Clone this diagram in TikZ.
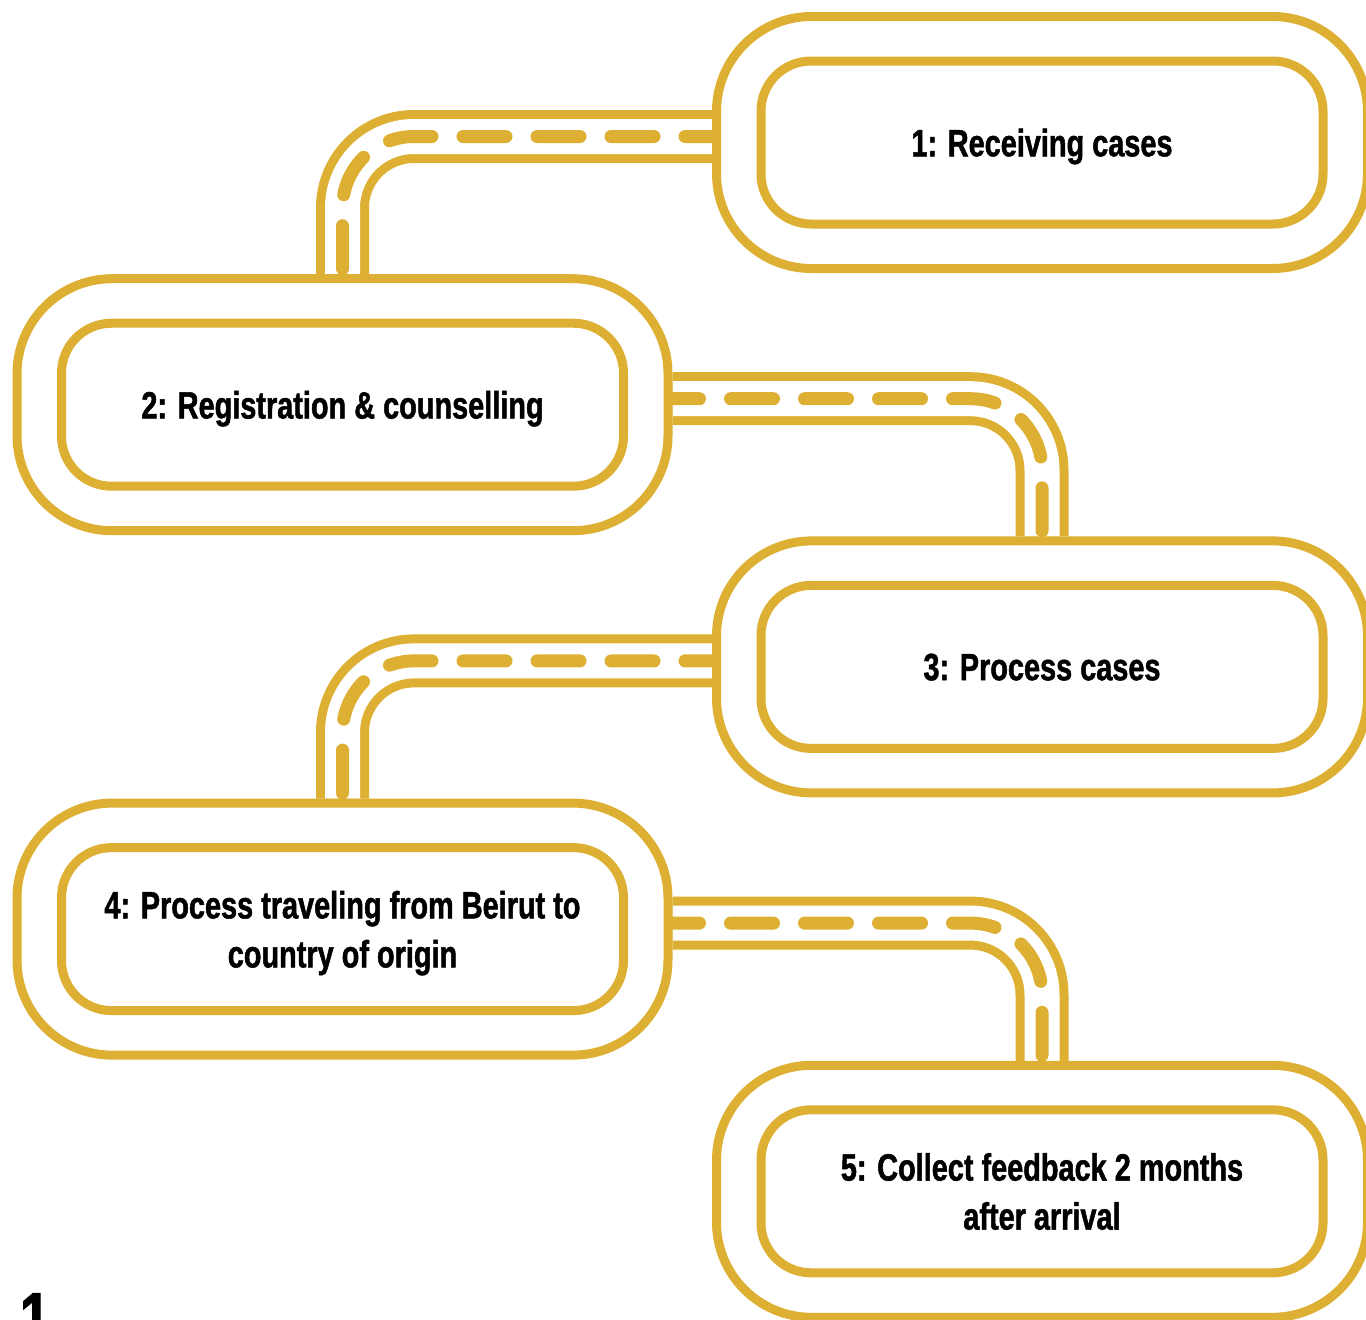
\documentclass[tikz,border=0pt]{standalone}
\usepackage{fontspec}
\newfontfamily\stepfont[FakeStretch=0.76, BoldFeatures={FakeBold=1.3}]{Liberation Sans}
\usetikzlibrary{backgrounds}
\definecolor{roadgold}{HTML}{DDB033}

\begin{document}
\begin{tikzpicture}[
  x=0.5pt, y=-0.5pt,
  font=\stepfont\bfseries\fontsize{19}{24.5}\selectfont,
  outerbox/.style={draw=roadgold, fill=white, line width=4.5pt,
    rounded corners=47.5pt, minimum width=325.5pt, minimum height=126pt},
  innerbox/.style={draw=roadgold, line width=4.5pt, rounded corners=25pt,
    minimum width=281pt, minimum height=81.5pt, align=center,
    inner sep=0pt, text depth=0pt},
  road/.style={rounded corners=35.75pt,
    preaction={draw=roadgold, line width=26.5pt},
    draw=white, line width=17.5pt,
    postaction={draw=roadgold, line width=6.5pt, line cap=round,
      dash pattern=on 21.5pt off 15.5pt, dash phase=8pt}},
  pagenum/.style={anchor=north, inner sep=0pt,
    font=\stepfont\bfseries\fontsize{36}{36}\selectfont}
]
\useasboundingbox (0,0) rectangle (1366,1319);

% steps, outer track and inner label box
\node[outerbox] (s1) at (1042,142.5) {};
\node[innerbox] (s1in) at (s1) {1: Receiving cases};
\node[outerbox] (s2) at (342.5,404.7) {};
\node[innerbox] (s2in) at (s2) {2: Registration \& counselling};
\node[outerbox] (s3) at (1042,666.9) {};
\node[innerbox] (s3in) at (s3) {3: Process cases};
\node[outerbox] (s4) at (342.5,929.1) {};
\node[innerbox] (s4in) at (s4) {4: Process traveling from Beirut to\\country of origin};
\node[outerbox] (s5) at (1042,1191.3) {};
\node[innerbox] (s5in) at (s5) {5: Collect feedback 2 months\\after arrival};

\node[pagenum] (pageno) at (35,1293) {1};

% roads between the steps
\begin{scope}[on background layer]
\draw[road] ([yshift=3pt]s1.west) -| (s2.north);
\draw[road] ([yshift=3pt]s2.east) -| (s3.north);
\draw[road] ([yshift=3pt]s3.west) -| (s4.north);
\draw[road] ([yshift=3pt]s4.east) -| (s5.north);
\end{scope}
\end{tikzpicture}
\end{document}
